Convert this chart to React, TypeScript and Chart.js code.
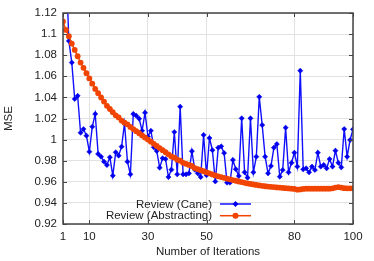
import React, { useEffect, useRef } from 'react';
import { Chart, registerables } from 'chart.js';

Chart.register(...registerables);

const iterations: number[] = Array.from({ length: 100 }, (_, i) => i + 1);

const xTickValues = [1, 10, 30, 50, 80, 100];

const seriesNames = ['Review (Cane)', 'Review (Abstracting)'];

const caneMSE = [
  1.25, 1.17, 1.0935, 1.073, 1.0385, 1.0415, 1.0065, 1.01, 1.0037, 0.9885,
  1.0122, 1.0243, 0.9864, 0.9838, 0.9791, 0.9759, 0.9832, 0.9658, 0.988, 0.9848,
  0.9933, 1.0154, 0.9791, 0.9671, 1.0243, 1.0227, 1.0198, 1.0084, 1.0255, 1.0028,
  1.0084, 0.9927, 0.9892, 0.9734, 0.9823, 0.9816, 0.9645, 0.9715, 1.0072, 0.9671,
  1.0312, 0.9671, 0.9671, 0.968, 0.989, 0.9715, 0.968, 0.9645, 1.0044, 0.9662,
  1.0015, 0.99, 0.9603, 0.9923, 0.9936, 0.9873, 0.9592, 0.9592, 0.9807, 0.972,
  0.9655, 1.0202, 0.969, 0.9639, 1.0202, 0.969, 0.9838, 1.0405, 1.0138, 0.9838,
  0.968, 0.975, 0.9923, 0.9958, 0.9649, 0.9712, 1.0113, 0.969, 0.978, 0.9876,
  0.9744, 1.0653, 0.9718, 0.9728, 0.969, 0.9744, 0.9712, 0.9876, 0.9744, 0.976,
  0.9728, 0.9816, 0.9744, 0.9895, 0.978, 0.9737, 1.01, 0.9838, 0.9996, 1.0097,
];

const abstractingMSE = [
  1.112, 1.104, 1.098, 1.091, 1.085, 1.079, 1.073, 1.068, 1.063, 1.058,
  1.053, 1.048, 1.044, 1.04, 1.036, 1.032, 1.029, 1.026, 1.023, 1.021,
  1.018, 1.016, 1.0145, 1.012, 1.01, 1.008, 1.006, 1.004, 1.002, 1.0,
  0.998, 0.996, 0.994, 0.992, 0.99, 0.988, 0.986, 0.984, 0.983, 0.981,
  0.98, 0.978, 0.977, 0.976, 0.975, 0.973, 0.972, 0.971, 0.97, 0.969,
  0.968, 0.967, 0.966, 0.9652, 0.9645, 0.9638, 0.963, 0.9623, 0.9616, 0.961,
  0.9603, 0.9597, 0.959, 0.9585, 0.958, 0.9575, 0.957, 0.9566, 0.9562, 0.9558,
  0.9555, 0.9552, 0.955, 0.9547, 0.9545, 0.9542, 0.954, 0.9537, 0.9535, 0.9532,
  0.9525, 0.9528, 0.9532, 0.9535, 0.9535, 0.9535, 0.9535, 0.9535, 0.9535, 0.9535,
  0.9535, 0.9535, 0.9538, 0.9545, 0.955, 0.9545, 0.954, 0.9538, 0.9538, 0.9538,
];

const FONT = '"Liberation Sans", Arial, sans-serif';
const BLUE = '#1010ff';
const ORANGE = '#f04400';
const TEXT = '#222222';

const framePlugin = {
  id: 'frame',
  afterDraw(chart: any) {
    const { ctx, chartArea: a, scales } = chart;
    ctx.save();
    // inner tick marks
    ctx.strokeStyle = '#444';
    ctx.lineWidth = 1;
    ctx.beginPath();
    scales.y.ticks.forEach((t: any) => {
      const y = Math.round(scales.y.getPixelForValue(t.value)) + 0.5;
      ctx.moveTo(a.left, y); ctx.lineTo(a.left + 4, y);
      ctx.moveTo(a.right, y); ctx.lineTo(a.right - 4, y);
    });
    scales.x.ticks.forEach((t: any) => {
      const x = Math.round(scales.x.getPixelForValue(t.value)) + 0.5;
      ctx.moveTo(x, a.bottom); ctx.lineTo(x, a.bottom - 4);
      ctx.moveTo(x, a.top); ctx.lineTo(x, a.top + 4);
    });
    ctx.stroke();
    // frame
    ctx.strokeStyle = '#444';
    ctx.lineWidth = 1.5;
    ctx.strokeRect(a.left, a.top, a.right - a.left, a.bottom - a.top);

    // legend (text right, sample on the right)
    const textRight = a.left + 149;
    const x0 = a.left + 157;
    const x1 = a.left + 188;
    const ys = [a.top + 191, a.top + 202.7];
    ctx.font = `11.5px ${FONT}`;
    ctx.textAlign = 'right';
    ctx.textBaseline = 'middle';
    chart.data.datasets.forEach((ds: any, i: number) => {
      const y = ys[i];
      ctx.fillStyle = TEXT;
      ctx.fillText(ds.label, textRight, y + 0.5);
      ctx.strokeStyle = ds.borderColor;
      ctx.lineWidth = 1.5;
      ctx.beginPath();
      ctx.moveTo(x0, y);
      ctx.lineTo(x1, y);
      ctx.stroke();
      ctx.fillStyle = ds.pointBackgroundColor;
      const cx = (x0 + x1) / 2;
      ctx.beginPath();
      if (i === 0) {
        const r = 3;
        ctx.moveTo(cx, y - r); ctx.lineTo(cx + r, y); ctx.lineTo(cx, y + r); ctx.lineTo(cx - r, y);
        ctx.closePath();
      } else {
        ctx.arc(cx, y, 3, 0, Math.PI * 2);
      }
      ctx.fill();
    });
    ctx.restore();
  },
};

export default function App() {
  const ref = useRef<HTMLCanvasElement | null>(null);
  useEffect(() => {
    if (!ref.current) return;
    const chart = new Chart(ref.current, {
      type: 'line',
      data: {
        datasets: [
          {
            label: seriesNames[0],
            data: caneMSE.map((v, i) => ({ x: iterations[i], y: v })),
            borderColor: BLUE,
            backgroundColor: BLUE,
            pointBackgroundColor: '#0000ee',
            pointBorderColor: '#0000ee',
            pointStyle: 'rectRot',
            pointRadius: 2.6,
            pointBorderWidth: 0.5,
            borderWidth: 1.4,
            tension: 0,
            order: 2,
          },
          {
            label: seriesNames[1],
            data: abstractingMSE.map((v, i) => ({ x: iterations[i], y: v })),
            borderColor: ORANGE,
            backgroundColor: ORANGE,
            pointBackgroundColor: ORANGE,
            pointBorderColor: ORANGE,
            pointStyle: 'circle',
            pointRadius: 2.9,
            pointBorderWidth: 0,
            borderWidth: 1.5,
            tension: 0,
            order: 1,
          },
        ],
      },
      options: {
        responsive: false,
        animation: false,
        devicePixelRatio: 1,
        layout: { padding: { left: 0, top: 13, right: 21, bottom: 0 } },
        plugins: {
          legend: { display: false },
          tooltip: { enabled: false },
        },
        scales: {
          x: {
            type: 'linear',
            min: 1,
            max: 100,
            afterBuildTicks: (axis: any) => {
              axis.ticks = xTickValues.map((v) => ({ value: v }));
            },
            afterFit: (s: any) => { s.height = 37; },
            grid: { color: '#e2e2e2', lineWidth: 1, drawTicks: false },
            border: { display: false },
            ticks: {
              color: TEXT,
              font: { family: FONT, size: 11.5 },
              padding: 6,
              maxRotation: 0,
              autoSkip: false,
              callback: (v: any) => String(v),
            },
            title: {
              display: true,
              text: 'Number of Iterations',
              color: TEXT,
              font: { family: FONT, size: 11.5 },
              padding: { top: 0, bottom: 2 },
            },
          },
          y: {
            min: 0.92,
            max: 1.12,
            afterFit: (s: any) => { s.width = 63; },
            grid: { color: '#e2e2e2', lineWidth: 1, drawTicks: false },
            border: { display: false },
            ticks: {
              stepSize: 0.02,
              color: TEXT,
              font: { family: FONT, size: 11.5 },
              padding: 6,
              callback: (v: any) => String(parseFloat(Number(v).toFixed(2))),
            },
            title: {
              display: true,
              text: 'MSE',
              color: TEXT,
              font: { family: FONT, size: 11.5 },
              padding: { top: 2, bottom: 0 },
            },
          },
        },
      },
      plugins: [framePlugin],
    });
    return () => chart.destroy();
  }, []);
  return (
    <canvas
      ref={ref}
      width={374}
      height={261}
      style={{ position: 'absolute', left: 0, top: 0, display: 'block' }}
    />
  );
}
